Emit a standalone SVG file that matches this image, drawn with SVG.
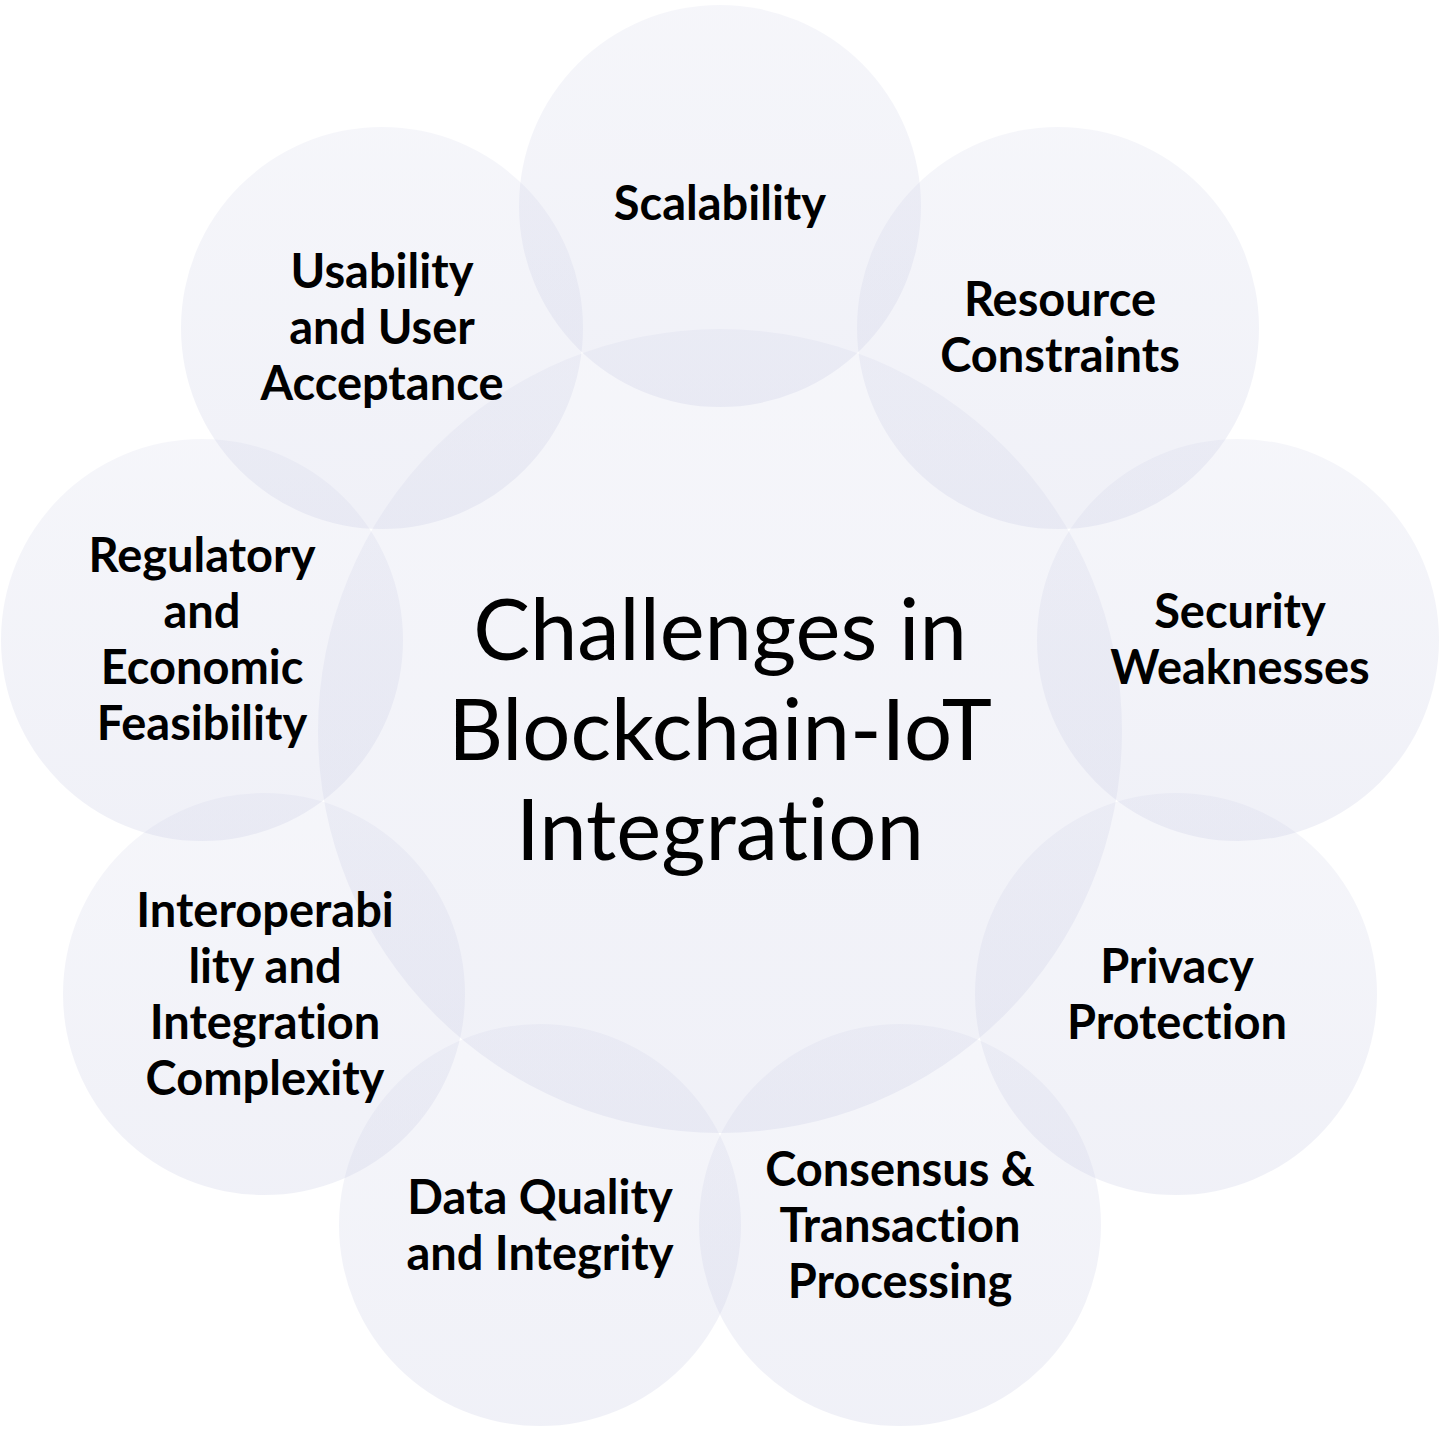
<svg xmlns="http://www.w3.org/2000/svg" width="1442" height="1429" viewBox="0 0 1442 1429">
<defs>
<linearGradient id="g" x1="0" y1="0" x2="0" y2="1">
<stop offset="0" stop-color="#c7cae3" stop-opacity="0.17"/>
<stop offset="1" stop-color="#c7cae3" stop-opacity="0.27"/>
</linearGradient>
</defs>
<style>
circle{fill:url(#g);stroke:none}
text{font-variant-ligatures:none;font-feature-settings:"liga" 0,"clig" 0}
.l{font-family:Lato,"Open Sans","Liberation Sans",sans-serif;font-weight:700;font-size:47px;fill:#000;text-anchor:middle}
.c{font-family:Lato,"Open Sans","Liberation Sans",sans-serif;font-weight:400;font-size:85px;fill:#000;text-anchor:middle}
</style>
<rect width="1442" height="1429" fill="#fff"/>
<g id="connectors"/>
<g id="center"><circle cx="720" cy="731" r="402"/>
<text class="c" x="720" y="660">Challenges in</text>
<text class="c" x="720" y="760">Blockchain-IoT</text>
<text class="c" x="720" y="860">Integration</text></g>
<g id="scalability"><circle cx="720" cy="206" r="201"/>
<text class="l" x="720" y="220">Scalability</text></g>
<g id="resource"><circle cx="1058" cy="328" r="201"/>
<text class="l" x="1060" y="316">Resource</text><text class="l" x="1060" y="372">Constraints</text></g>
<g id="security"><circle cx="1238" cy="640" r="201"/>
<text class="l" x="1240" y="628">Security</text><text class="l" x="1240" y="684">Weaknesses</text></g>
<g id="privacy"><circle cx="1176" cy="994" r="201"/>
<text class="l" x="1177" y="983">Privacy</text><text class="l" x="1177" y="1039">Protection</text></g>
<g id="consensus"><circle cx="900" cy="1225" r="201"/>
<text class="l" x="900" y="1186">Consensus &amp;</text><text class="l" x="900" y="1242">Transaction</text><text class="l" x="900" y="1298">Processing</text></g>
<g id="dataquality"><circle cx="540" cy="1225" r="201"/>
<text class="l" x="540" y="1214">Data Quality</text><text class="l" x="540" y="1270">and Integrity</text></g>
<g id="interop"><circle cx="264" cy="994" r="201"/>
<text class="l" x="265" y="927">Interoperabi</text><text class="l" x="265" y="983">lity and</text><text class="l" x="265" y="1039">Integration</text><text class="l" x="265" y="1095">Complexity</text></g>
<g id="regulatory"><circle cx="202" cy="640" r="201"/>
<text class="l" x="202" y="572">Regulatory</text><text class="l" x="202" y="628">and</text><text class="l" x="202" y="684">Economic</text><text class="l" x="202" y="740">Feasibility</text></g>
<g id="usability"><circle cx="382" cy="328" r="201"/>
<text class="l" x="382" y="288">Usability</text><text class="l" x="382" y="344">and User</text><text class="l" x="382" y="400">Acceptance</text></g>
</svg>
